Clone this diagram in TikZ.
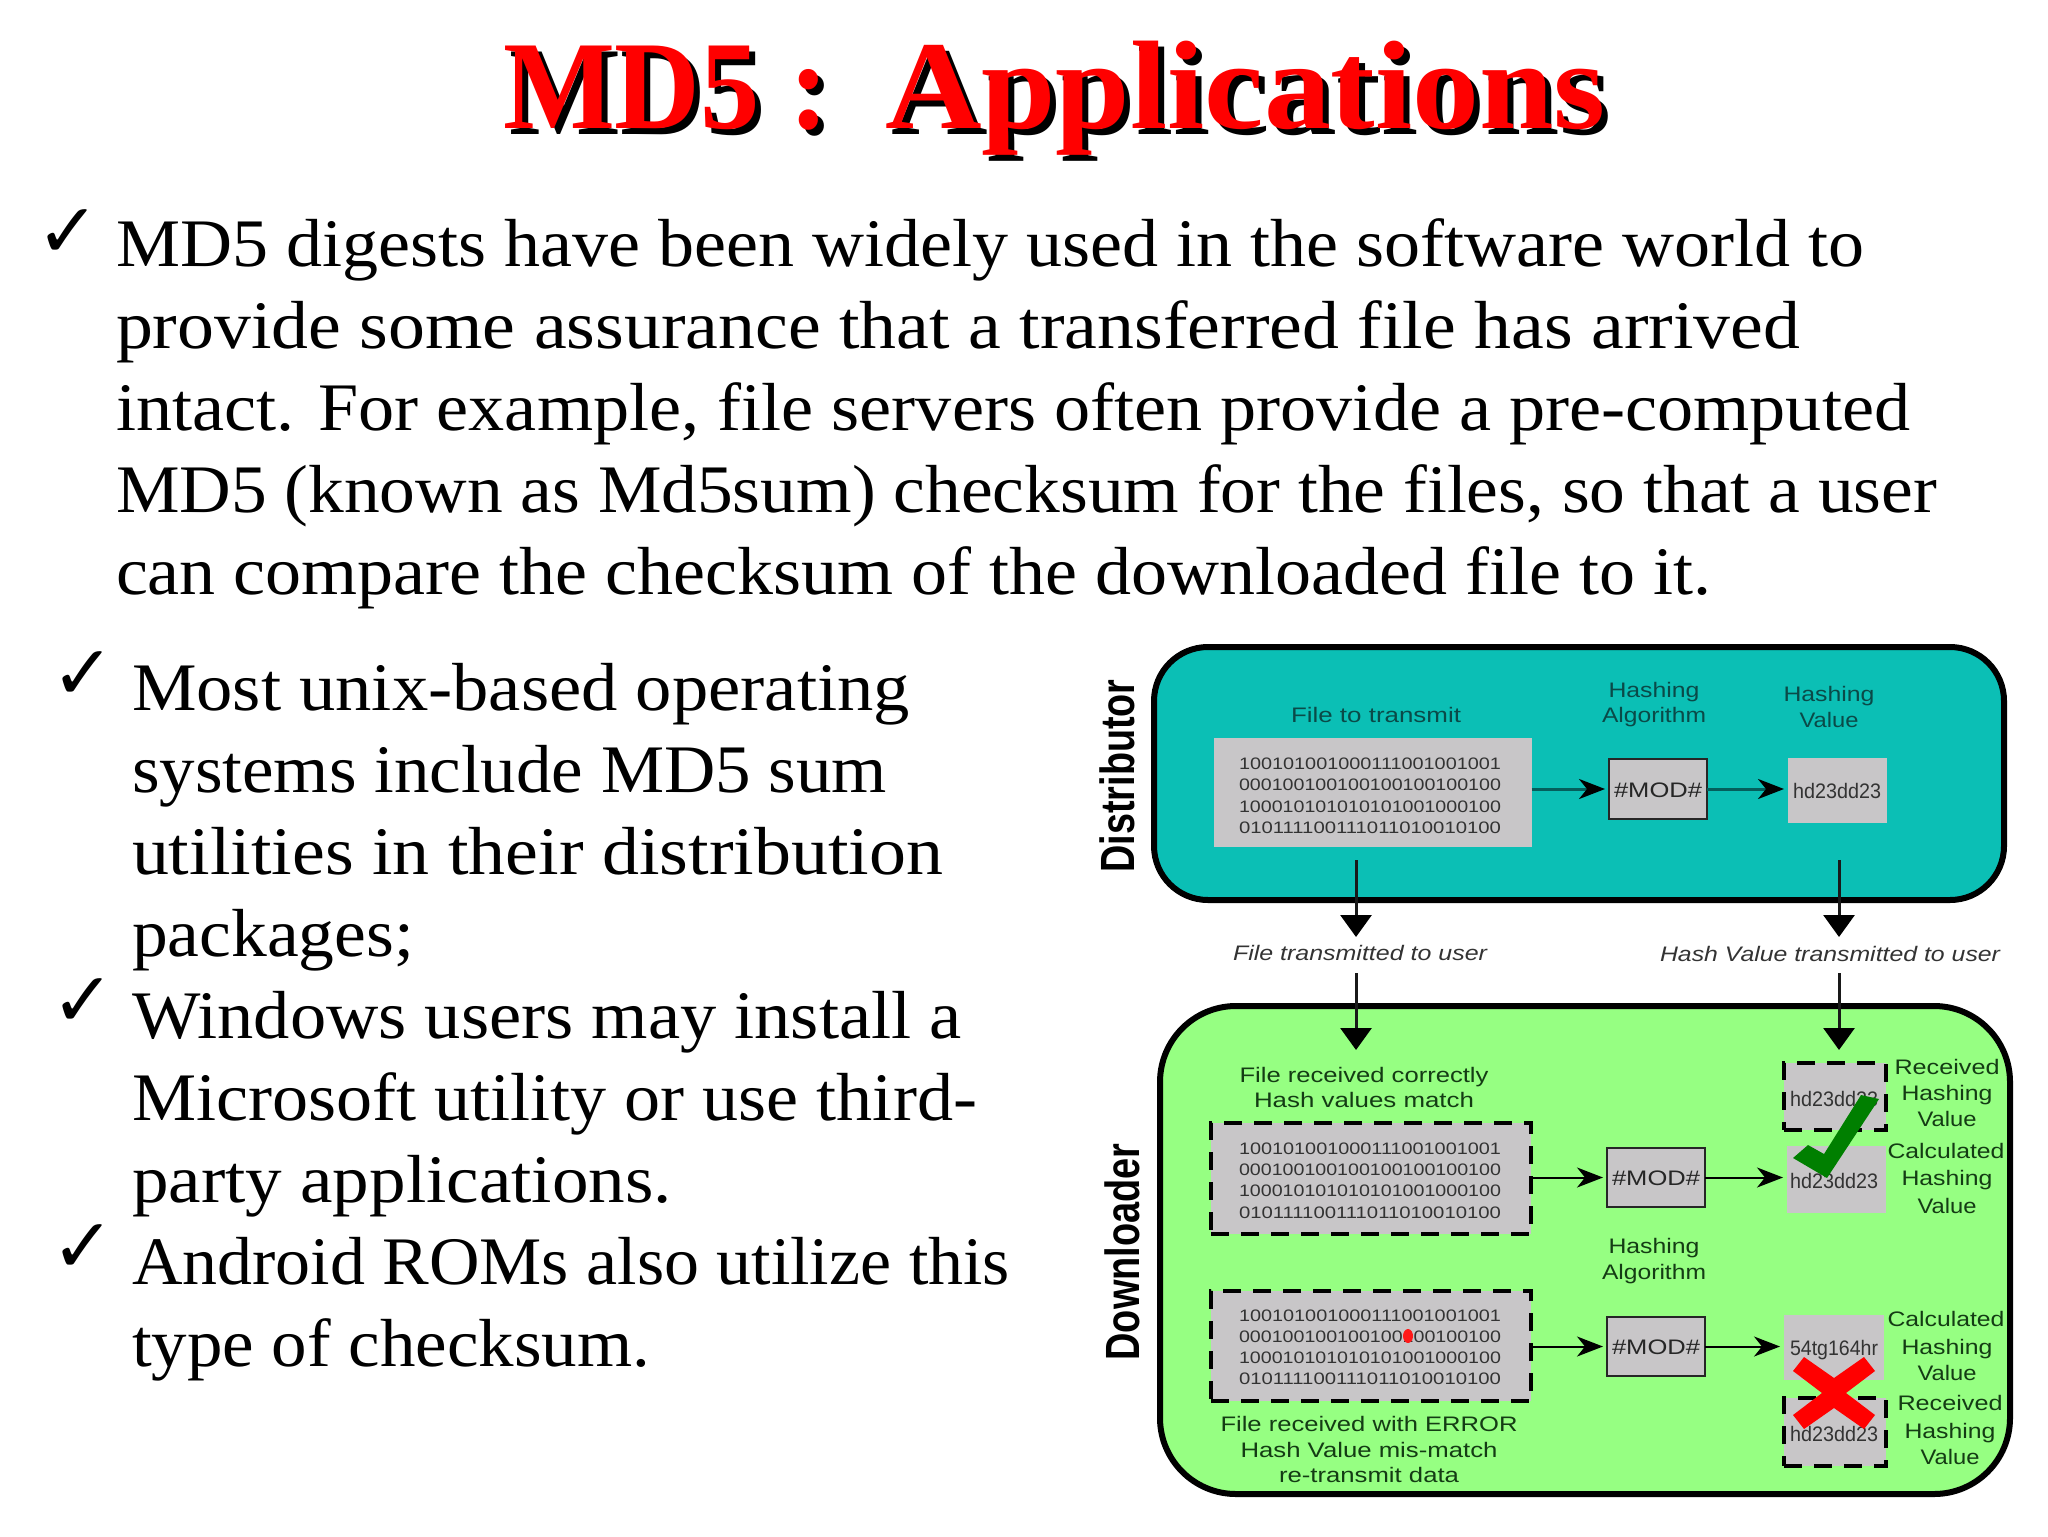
\documentclass[tikz,border=0pt]{standalone}
\usepackage{fontspec}
\usepackage{graphicx}
\setmainfont{Liberation Serif}
\newfontfamily\lsans{Liberation Sans}
\newfontfamily\djv{DejaVu Sans}
\usetikzlibrary{arrows.meta}
\definecolor{teal1}{HTML}{0BBFB5}
\definecolor{lime1}{HTML}{96FF82}
\definecolor{gray1}{HTML}{C8C6C8}
\definecolor{tealtxt}{HTML}{0A4A48}
\definecolor{greentxt}{HTML}{143C14}
\definecolor{tealline}{HTML}{045F5C}
\definecolor{okgreen}{HTML}{007F00}
\newlength\fitl
\newcommand\fitw[2]{\setlength\fitl{#1pt}\setlength\fitl{0.5\fitl}\resizebox{\fitl}{\height}{#2}}
\newcommand\titletext{\fitw{326}{MD5 :}\hspace{28pt}\fitw{721}{Applications}}
\tikzset{
  x=0.5pt,y=-0.5pt,
  txt/.style={inner sep=0pt,outer sep=0pt,anchor=base west,font=\fontsize{34}{34}\selectfont,text=black},
  chk/.style={inner sep=0pt,outer sep=0pt,anchor=center,font=\djv\fontsize{38}{38}\selectfont,text=black},
  lab/.style={inner sep=0pt,outer sep=0pt,anchor=base,font=\lsans\fontsize{10.5}{10.5}\selectfont},
  binlab/.style={lab,font=\lsans\fontsize{8.3}{8.3}\selectfont,text=black!80},
  panel/.style={draw=black,line width=3pt,rounded corners=#1},
  greybox/.style={fill=gray1,draw=none,inner sep=0pt,outer sep=0pt},
  dashbox/.style={greybox,draw=black,line width=2.4pt,dash pattern=on 9pt off 6pt},
  modbox/.style={greybox,draw=black!85,line width=1pt},
  small/.style={-{Stealth[length=13pt,width=10pt,inset=4pt,color=black]},shorten >=2pt,line width=#1},
  big/.style={-{Triangle[length=11pt,width=15.5pt,color=black]},line width=1.5pt,draw=black!90},
  side/.style={inner sep=0pt,outer sep=0pt,rotate=90,anchor=center,font=\lsans\bfseries\fontsize{24}{24}\selectfont}
}
\newcommand\bline[5]{\node[txt] (#1) at (#2,#3) {\fitw{#4}{#5}};}
\newcommand\lbl[6][tealtxt]{\node[lab,text=#1] (#2) at (#3,#4+7) {\fitw{#5}{#6}};}
\newcommand\binl[4]{\node[binlab] (#1) at (#2,#3+6) {\fitw{262}{#4}};}
\begin{document}
\begin{tikzpicture}
\useasboundingbox (0,0) rectangle (2048,1536);
% title
\node[txt,font=\bfseries\fontsize{63}{63}\selectfont,text=black] (titleS) at (509,134) {\titletext};
\node[txt,font=\bfseries\fontsize{63}{63}\selectfont,text=red] (title) at (503,128) {\titletext};
% top paragraph
\node[chk] (c1) at (68,234) {✓};
\bline{t1}{116}{266}{1748}{MD5 digests have been widely used in the software world to}
\bline{t2}{116}{348}{1684}{provide some assurance that a transferred file has arrived}
\bline{t3}{116}{430}{1794}{intact. For example, file servers often provide a pre-computed}
\bline{t4}{116}{512}{1821}{MD5 (known as Md5sum) checksum for the files, so that a user}
\bline{t5}{116}{594}{1595}{can compare the checksum of the downloaded file to it.}
% left column
\node[chk] (c2) at (83,676) {✓};
\node[chk] (c3) at (83,1003) {✓};
\node[chk] (c4) at (83,1249) {✓};
\bline{l1}{132}{710}{778}{Most unix-based operating}
\bline{l2}{132}{792}{755}{systems include MD5 sum}
\bline{l3}{132}{874}{811}{utilities in their distribution}
\bline{l4}{132}{956}{282}{packages;}
\bline{l5}{132}{1038}{830}{Windows users may install a}
\bline{l6}{132}{1120}{845}{Microsoft utility or use third-}
\bline{l7}{132}{1202}{540}{party applications.}
\bline{l8}{132}{1284}{878}{Android ROMs also utilize this}
\bline{l9}{132}{1366}{518}{type of checksum.}
% panels
\node[side] (dist) at (1117,776) {\fitw{193}{Distributor}};
\node[side] (down) at (1122,1252) {\fitw{217}{Downloader}};
\draw[panel=27pt,fill=teal1] (1154,647) rectangle (2004,900);
\draw[panel=38pt,fill=lime1] (1160,1006) rectangle (2010,1494);
% distributor contents
\node[greybox,minimum width=159pt,minimum height=54.5pt] (src) at (1372.5,792.5) {};
\node[modbox,line width=1.4pt,minimum width=49pt,minimum height=30pt] (mod) at (1658,789) {};
\node[greybox,minimum width=49.5pt,minimum height=32.5pt] (hash) at (1837.5,790.5) {};
\binl{s1}{1370}{763}{100101001000111001001001}
\binl{s2}{1370}{784}{000100100100100100100100}
\binl{s3}{1370}{806}{100010101010101001000100}
\binl{s4}{1370}{827}{010111100111011010010100}
\lbl[black!85]{modt}{1658}{790}{88}{\#MOD\#}
\lbl[black!80]{hasht}{1837}{791}{88}{hd23dd23}
\lbl{a1}{1376}{715}{170}{File to transmit}
\lbl{a2}{1654}{690}{91}{Hashing}
\lbl{a3}{1654}{715}{104}{Algorithm}
\lbl{a4}{1829}{694}{91}{Hashing}
\lbl{a5}{1829}{720}{59}{Value}
\draw[small=1.5pt,draw=tealline] (src.east |- mod.west) -- (mod.west);
\draw[small=1.5pt,draw=tealline] (mod.east) -- (hash.west |- mod.east);
% transfer arrows
\coordinate (af) at (1356,860);
\coordinate (at) at (1356,937);
\coordinate (bf) at (1839,860);
\coordinate (bt) at (1839,937);
\coordinate (cf) at (1356,973);
\coordinate (ct) at (1356,1050);
\coordinate (df) at (1839,973);
\coordinate (dt) at (1839,1050);
\draw[big] (af) -- (at);
\draw[big] (bf) -- (bt);
\draw[big] (cf) -- (ct);
\draw[big] (df) -- (dt);
\node[lab,font=\lsans\itshape\fontsize{10.5}{10.5}\selectfont,text=black!80] (i1) at (1360,960) {\fitw{254}{File transmitted to user}};
\node[lab,font=\lsans\itshape\fontsize{10.5}{10.5}\selectfont,text=black!80] (i2) at (1830,961) {\fitw{340}{Hash Value transmitted to user}};
% downloader top row
\node[dashbox,minimum width=160pt,minimum height=55.5pt] (f1) at (1371,1178.5) {};
\node[modbox,minimum width=49pt,minimum height=29.5pt] (m1) at (1656,1177.5) {};
\node[greybox,minimum width=49.5pt,minimum height=33.5pt] (calc1) at (1836.5,1179.5) {};
\node[dashbox,minimum width=51pt,minimum height=33.5pt] (recv1) at (1835,1096.5) {};
\binl{b1}{1370}{1148}{100101001000111001001001}
\binl{b2}{1370}{1169}{000100100100100100100100}
\binl{b3}{1370}{1190}{100010101010101001000100}
\binl{b4}{1370}{1212}{010111100111011010010100}
\lbl[black!85]{mt1}{1656}{1178}{88}{\#MOD\#}
\lbl[black!80]{ht1}{1834}{1099}{88}{hd23dd23}
\lbl[black!80]{ht2}{1834}{1181}{88}{hd23dd23}
\lbl[greentxt]{g1}{1364}{1075}{249}{File received correctly}
\lbl[greentxt]{g2}{1364}{1100}{220}{Hash values match}
\lbl[greentxt]{g3}{1947}{1067}{105}{Received}
\lbl[greentxt]{g4}{1947}{1093}{91}{Hashing}
\lbl[greentxt]{g5}{1947}{1119}{59}{Value}
\lbl[greentxt]{g6}{1946}{1151}{117}{Calculated}
\lbl[greentxt]{g7}{1947}{1178}{91}{Hashing}
\lbl[greentxt]{g8}{1947}{1206}{59}{Value}
\lbl[greentxt]{g9}{1654}{1246}{91}{Hashing}
\lbl[greentxt]{g10}{1654}{1272}{104}{Algorithm}
\draw[small=1pt,draw=black] (f1.east |- m1.west) -- (m1.west);
\draw[small=1pt,draw=black] (m1.east) -- (calc1.west |- m1.east);
\fill[okgreen] (1793,1158) -- (1808,1145) -- (1824,1154) -- (1861,1095) -- (1879,1099) -- (1827,1178) -- cycle;
% downloader bottom row
\node[dashbox,minimum width=160pt,minimum height=55pt] (f2) at (1371,1346) {};
\node[modbox,minimum width=49pt,minimum height=29.5pt] (m2) at (1656,1346.5) {};
\node[greybox,minimum width=50pt,minimum height=32.5pt] (calc2) at (1834,1347.5) {};
\node[dashbox,minimum width=51pt,minimum height=34pt] (recv2) at (1835,1432) {};
\binl{e1}{1370}{1315}{100101001000111001001001}
\binl{e2}{1370}{1336}{000100100100100100100100}
\binl{e3}{1370}{1357}{100010101010101001000100}
\binl{e4}{1370}{1378}{010111100111011010010100}
\fill[red!90] (1408,1336) ellipse [x radius=5,y radius=7];
\lbl[black!85]{mt2}{1656}{1347}{88}{\#MOD\#}
\lbl[black!80]{ht3}{1834}{1348}{88}{54tg164hr}
\lbl[black!80]{ht4}{1834}{1434}{88}{hd23dd23}
\lbl[greentxt]{h1}{1946}{1319}{117}{Calculated}
\lbl[greentxt]{h2}{1947}{1347}{91}{Hashing}
\lbl[greentxt]{h3}{1947}{1373}{59}{Value}
\lbl[greentxt]{h4}{1950}{1403}{105}{Received}
\lbl[greentxt]{h5}{1950}{1431}{91}{Hashing}
\lbl[greentxt]{h6}{1950}{1457}{59}{Value}
\lbl[greentxt]{h7}{1369}{1424}{297}{File received with ERROR}
\lbl[greentxt]{h8}{1369}{1450}{257}{Hash Value mis-match}
\lbl[greentxt]{h9}{1369}{1475}{180}{re-transmit data}
\draw[small=1pt,draw=black] (f2.east |- m2.west) -- (m2.west);
\draw[small=1pt,draw=black] (m2.east) -- (calc2.west |- m2.east);
\fill[red] (1793,1371) -- (1804,1357) -- (1834,1378) -- (1864,1357) -- (1875,1371) -- (1846,1393) -- (1875,1415) -- (1864,1429) -- (1834,1408) -- (1804,1429) -- (1793,1415) -- (1822,1393) -- cycle;
\end{tikzpicture}
\end{document}
